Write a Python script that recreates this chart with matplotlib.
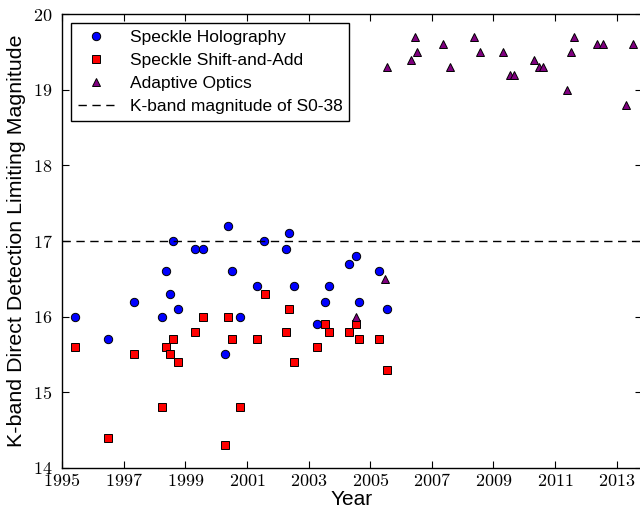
import matplotlib
matplotlib.use('Agg')
import matplotlib.pyplot as plt
from matplotlib.ticker import FixedLocator, MultipleLocator, FuncFormatter

# speckle holography detection limits
holo_year = [1995.43, 1996.48, 1997.35, 1998.24, 1998.36, 1998.50, 1998.59, 1998.76,
             1999.31, 1999.56, 2000.29, 2000.37, 2000.53, 2000.78, 2001.34, 2001.55,
             2002.28, 2002.37, 2002.54, 2003.28, 2003.54, 2003.65, 2004.32, 2004.55,
             2004.65, 2005.30, 2005.56]
holo_mag = [16.0, 15.7, 16.2, 16.0, 16.6, 16.3, 17.0, 16.1,
            16.9, 16.9, 15.5, 17.2, 16.6, 16.0, 16.4, 17.0,
            16.9, 17.1, 16.4, 15.9, 16.2, 16.4, 16.7, 16.8,
            16.2, 16.6, 16.1]

# speckle shift-and-add detection limits
ssa_year = [1995.43, 1996.48, 1997.35, 1998.24, 1998.36, 1998.50, 1998.59, 1998.76,
            1999.31, 1999.56, 2000.29, 2000.37, 2000.53, 2000.78, 2001.34, 2001.57,
            2002.28, 2002.37, 2002.54, 2003.28, 2003.54, 2003.67, 2004.32, 2004.55,
            2004.65, 2005.30, 2005.56]
ssa_mag = [15.6, 14.4, 15.5, 14.8, 15.6, 15.5, 15.7, 15.4,
           15.8, 16.0, 14.3, 16.0, 15.7, 14.8, 15.7, 16.3,
           15.8, 16.1, 15.4, 15.6, 15.9, 15.8, 15.8, 15.9,
           15.7, 15.7, 15.3]

# adaptive optics detection limits
ao_year = [2004.55, 2005.49, 2005.56, 2006.32, 2006.46, 2006.53, 2007.37, 2007.60,
           2008.36, 2008.55, 2009.32, 2009.54, 2009.68, 2010.32, 2010.49, 2010.61,
           2011.39, 2011.52, 2011.63, 2012.35, 2012.56, 2013.30, 2013.54]
ao_mag = [16.0, 16.5, 19.3, 19.4, 19.7, 19.5, 19.6, 19.3,
          19.7, 19.5, 19.5, 19.2, 19.2, 19.4, 19.3, 19.3,
          19.0, 19.5, 19.7, 19.6, 19.6, 18.8, 19.6]

s038_mag = 17.0
year_ticks = list(range(1995, 2014, 2))

plt.rcParams['mathtext.fontset'] = 'cm'
plt.rcParams['font.family'] = ['Liberation Sans', 'DejaVu Sans']

fig = plt.figure(figsize=(6.4, 5.08), dpi=100)
ax = fig.add_axes([0.097, 0.079, 0.906, 0.893])

ms = 6
ax.plot(holo_year, holo_mag, 'o', color='#0000ff', mec='black', mew=0.7, ms=ms,
        label='Speckle Holography')
ax.plot(ssa_year, ssa_mag, 's', color='#ff0000', mec='black', mew=0.7, ms=ms,
        label='Speckle Shift-and-Add')
ax.plot(ao_year, ao_mag, '^', color='#800080', mec='black', mew=0.7, ms=ms,
        label='Adaptive Optics')
ax.axhline(s038_mag, color='black', ls='--', lw=1, dashes=(6, 4),
           label='K-band magnitude of S0-38')

ax.set_xlim(1995, 2013.82)
ax.set_ylim(14, 20)
ax.xaxis.set_major_locator(FixedLocator(year_ticks))
ax.yaxis.set_major_locator(MultipleLocator(1))
ax.xaxis.set_major_formatter(FuncFormatter(lambda v, p: r'$%d$' % v))
ax.yaxis.set_major_formatter(FuncFormatter(lambda v, p: r'$%d$' % v))
ax.tick_params(direction='in', top=True, right=True, length=5, width=0.8,
               labelsize=13)
ax.tick_params(axis='y', pad=7)
ax.tick_params(axis='x', pad=4)
for sp in ax.spines.values():
    sp.set_linewidth(1.0)

ax.set_xlabel('Year', fontsize=15, labelpad=0)
ax.set_ylabel('K-band Direct Detection Limiting Magnitude', fontsize=15.4, labelpad=5)

leg = ax.legend(loc='upper left', numpoints=1, fontsize=12.5, fancybox=False,
                framealpha=1, edgecolor='black', borderpad=0.4, labelspacing=0.45,
                handlelength=2.1, handletextpad=0.9, borderaxespad=0.5)
leg.get_frame().set_linewidth(1.0)

fig.savefig('out.png', dpi=100)
